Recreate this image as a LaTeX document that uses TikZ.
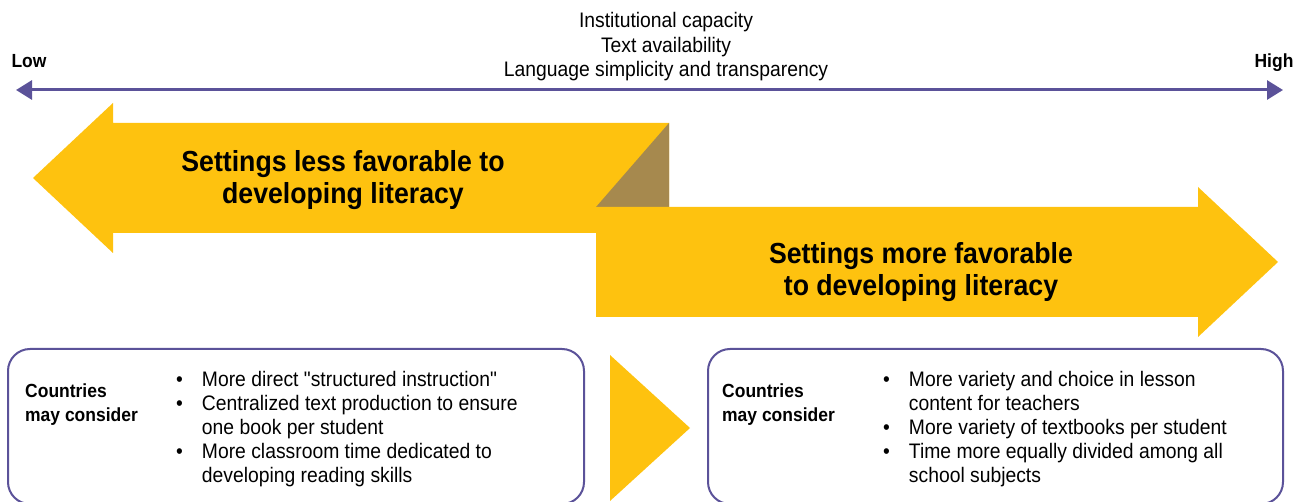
\documentclass[tikz,border=0pt]{standalone}
\usepackage{fontspec}
\setmainfont{Liberation Sans}[FakeStretch=0.92]
\newfontfamily\straightq{Liberation Sans}[FakeStretch=0.92]
\usetikzlibrary{arrows.meta}
\definecolor{gold}{HTML}{FEC20F}
\definecolor{fold}{HTML}{A6894E}
\definecolor{violet}{HTML}{5B5299}
\tikzset{
  bigarrow/.style={fill=gold, draw=none},
  foldtri/.style={fill=fold, draw=none},
  axis/.style={draw=violet, line width=3pt, {Triangle[length=16pt,width=19pt]}-{Triangle[length=16pt,width=19pt]}},
  panel/.style={draw=violet, line width=2pt, rounded corners=22pt},
  plain/.style={inner sep=0pt, font=\fontsize{21}{24.5}\selectfont, align=center},
  endlabel/.style={inner sep=0pt, anchor=base, font=\bfseries\fontsize{19}{22}\selectfont},
  title/.style={inner sep=0pt, font=\bfseries\fontsize{29}{32}\selectfont, align=center},
  lead/.style={inner sep=0pt, anchor=west, font=\bfseries\fontsize{19}{24}\selectfont, align=left},
  bullets/.style={inner sep=0pt, anchor=west, font=\fontsize{21}{24}\selectfont},
}
\begin{document}
\begin{tikzpicture}[x=1pt, y=-1pt]
\useasboundingbox (0,0) rectangle (1306,502);
% header
\node[plain] (header) at (666,47) {Institutional capacity\\Text availability\\Language simplicity and transparency};
\node[endlabel] (low) at (29,68) {Low};
\node[endlabel] (high) at (1274,68) {High};
\coordinate (lowend) at (16,90);
\coordinate (highend) at (1283,90);
\draw[axis] (lowend) -- (highend);
% big arrows
\path[bigarrow] (33,178) -- (113,103) -- (113,123) -- (669,123) -- (669,233) -- (113,233) -- (113,253) -- cycle;
\path[foldtri] (669,123) -- (669,207) -- (596,207) -- cycle;
\path[bigarrow] (596,207) -- (1198,207) -- (1198,187) -- (1278,262) -- (1198,337) -- (1198,317) -- (596,317) -- cycle;
\path[bigarrow] (610,355) -- (690,428) -- (610,501) -- cycle;
\node[title] (less) at (343,180) {Settings less favorable to\\developing literacy};
\node[title] (more) at (921,272) {Settings more favorable\\to developing literacy};
% panels
\draw[panel] (8,349) rectangle (584,504);
\draw[panel] (708,349) rectangle (1283,504);
\node[lead] (leadL) at (25,405) {Countries\\may consider};
\node[lead] (leadR) at (722,405) {Countries\\may consider};
\node[bullets] (listL) at (176,430) {\renewcommand{\arraystretch}{1}\begin{tabular}{@{}l@{\hspace{19pt}}l@{}}
\textbullet & More direct {\straightq"}structured instruction{\straightq"}\\
\textbullet & Centralized text production to ensure\\
 & one book per student\\
\textbullet & More classroom time dedicated to\\
 & developing reading skills
\end{tabular}};
\node[bullets] (listR) at (883,430) {\renewcommand{\arraystretch}{1}\begin{tabular}{@{}l@{\hspace{19pt}}l@{}}
\textbullet & More variety and choice in lesson\\
 & content for teachers\\
\textbullet & More variety of textbooks per student\\
\textbullet & Time more equally divided among all\\
 & school subjects
\end{tabular}};
\end{tikzpicture}
\end{document}
